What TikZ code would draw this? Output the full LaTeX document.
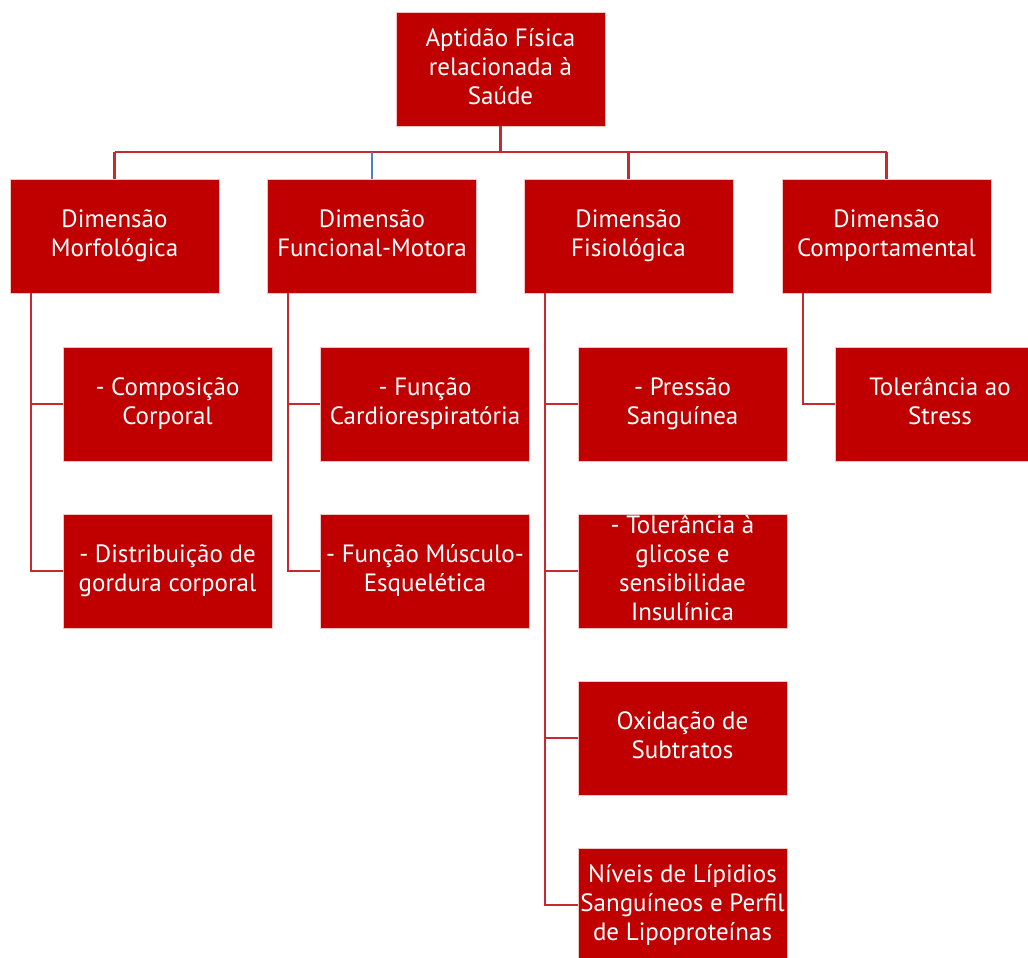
\documentclass[tikz,border=0pt]{standalone}
\usepackage{fontspec}
\setmainfont{PT Sans}
\definecolor{boxred}{HTML}{C00000}
\definecolor{boxedge}{HTML}{F2C4C4}
\definecolor{linered}{HTML}{C42A30}
\definecolor{lineblue}{HTML}{4F81BD}
\begin{document}
\begin{tikzpicture}[x=1pt,y=-1pt,
  box/.style={fill=boxred,draw=boxedge,line width=0.8pt,minimum width=209pt,minimum height=114pt,
    inner sep=0pt,text=white,align=center,font=\fontsize{25}{29}\selectfont,
    execute at begin node=\rule{0pt}{24pt}, execute at end node=\rule[-6pt]{0pt}{6pt}},
  conn/.style={draw=linered,line width=2.2pt}]
\useasboundingbox (0,0) rectangle (1028,958);
% root
\node[box] (root) at (500.5,69) {Aptidão Física\\relacionada à\\Saúde};
% level 1
\node[box] (la) at (114.5,236) {Dimensão\\Morfológica};
\node[box] (lb) at (372,236) {Dimensão\\Funcional-Motora};
\node[box] (lc) at (628.5,236) {Dimensão\\Fisiológica};
\node[box] (ld) at (886.5,236) {Dimensão\\Comportamental};
% children
\node[box] (a1) at (167.5,404) {- Composição\\Corporal};
\node[box] (a2) at (167.5,571) {- Distribuição de\\gordura corporal};
\node[box] (b1) at (425,404) {- Função\\Cardiorespiratória};
\node[box] (b2) at (425,571) {- Função Músculo-\\Esquelética};
\node[box] (c1) at (682.5,404) {- Pressão\\Sanguínea};
\node[box] (c2) at (682.5,571) {- Tolerância à\\glicose e\\sensibilidae\\Insulínica};
\node[box] (c3) at (682.5,738) {Oxidação de\\Subtratos};
\node[box] (c4) at (682.5,905) {Níveis de Lípidios\\Sanguíneos e Perfil\\de Lipoproteínas};
\node[box] (d1) at (940,404) {Tolerância ao\\Stress};
% top connectors
\coordinate (bus) at (500.5,152);
\draw[conn] (root.south) -- (root.south |- bus);
\draw[conn] (la.north |- bus) -- (ld.north |- bus);
\draw[conn] (la.north |- bus) -- (la.north);
\draw[draw=lineblue,line width=2pt] (lb.north |- bus) -- (lb.north);
\draw[conn] (lc.north |- bus) -- (lc.north);
\draw[conn] (ld.north |- bus) -- (ld.north);
% child connectors
\foreach \p/\c in {la/a1,la/a2,lb/b1,lb/b2,lc/c1,lc/c2,lc/c3,lc/c4,ld/d1}{
  \draw[conn] ([xshift=21pt]\p.south west) |- (\c.west);
}
\end{tikzpicture}
\end{document}
